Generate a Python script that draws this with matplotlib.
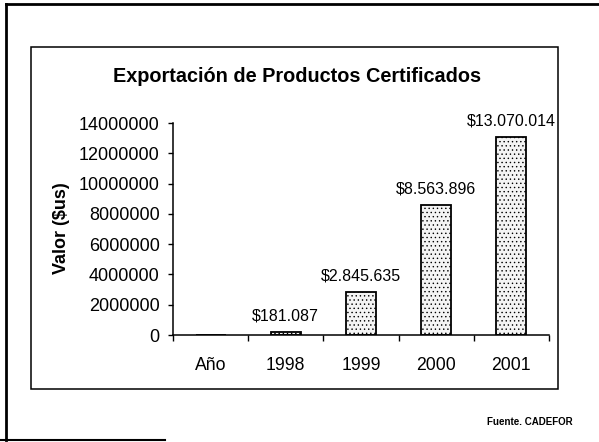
import matplotlib
matplotlib.use("Agg")
import matplotlib.pyplot as plt
from matplotlib.lines import Line2D
from matplotlib.patches import Rectangle

# Export value of certified products by year (US$)
categories = ["Año", "1998", "1999", "2000", "2001"]
values = [0, 181087, 2845635, 8563896, 13070014]
labelled = [False, True, True, True, True]
y_ticks = [0, 2000000, 4000000, 6000000, 8000000, 10000000, 12000000, 14000000]

title = "Exportación de Productos Certificados"
y_label = "Valor ($us)"
source = "Fuente. CADEFOR"

W, H = 599, 442
plt.rcParams["font.family"] = ["Liberation Sans", "DejaVu Sans"]
plt.rcParams["hatch.color"] = "#8a8a8a"
plt.rcParams["hatch.linewidth"] = 0.5

fig = plt.figure(figsize=(W / 100, H / 100), dpi=100)
fig.patch.set_facecolor("white")


def fx(px):
    return px / W


def fy(py):
    return 1 - py / H


# outer page frame (left, top, partial bottom)
for xs, ys, lw in [((6, 6), (4, 440), 2.0), ((6, 599), (4, 4), 2.0), ((0, 165), (440, 440), 1.5)]:
    fig.add_artist(Line2D([fx(x) for x in xs], [fy(y) for y in ys],
                          color="black", lw=lw, transform=fig.transFigure))

# chart box
fig.add_artist(Rectangle((fx(31), fy(389)), fx(558) - fx(31), fy(47) - fy(389),
                         fill=False, edgecolor="black", lw=1.1,
                         transform=fig.transFigure))

ax = fig.add_axes([fx(173), fy(335), fx(549) - fx(173), fy(123) - fy(335)])
ax.set_facecolor("none")

x = list(range(len(categories)))
bars = ax.bar(x, values, width=0.4, facecolor="#f4f4f4", edgecolor="black",
              linewidth=1.3, hatch="....", zorder=2)

for xi, v, show in zip(x, values, labelled):
    if show:
        txt = "$" + f"{v:,}".replace(",", ".")
        ax.annotate(txt, (xi, v), xytext=(0, 6), textcoords="offset points",
                    ha="center", va="bottom", fontsize=11.5)

ax.set_xlim(-0.5, len(categories) - 0.5)
ax.set_ylim(0, 14000000)
ax.set_yticks(y_ticks)
ax.set_yticklabels([str(t) for t in y_ticks], fontsize=13)
ax.tick_params(axis="y", direction="out", length=3.5, width=1, pad=6)

# boundary ticks on x, category names centred between them
ax.set_xticks([i - 0.5 for i in range(len(categories) + 1)])
ax.set_xticklabels([])
ax.tick_params(axis="x", which="major", direction="out", length=4, width=1)
ax.set_xticks(x, minor=True)
ax.set_xticklabels(categories, minor=True, fontsize=12.7)
ax.tick_params(axis="x", which="minor", length=0, pad=15.5)

for s in ["top", "right"]:
    ax.spines[s].set_visible(False)
for s in ["left", "bottom"]:
    ax.spines[s].set_linewidth(1.1)

fig.text(fx(297), fy(77), title,
         ha="center", va="center", fontsize=14.3, fontweight="bold")
fig.text(fx(61), fy(228), y_label, rotation=90, ha="center", va="center",
         fontsize=13, fontweight="bold")
fig.text(fx(530), fy(422), source, ha="center", va="center", fontsize=7,
         fontweight="bold", family=["Liberation Sans Narrow", "Liberation Sans"])

fig.savefig("out.png", dpi=100, facecolor="white")
